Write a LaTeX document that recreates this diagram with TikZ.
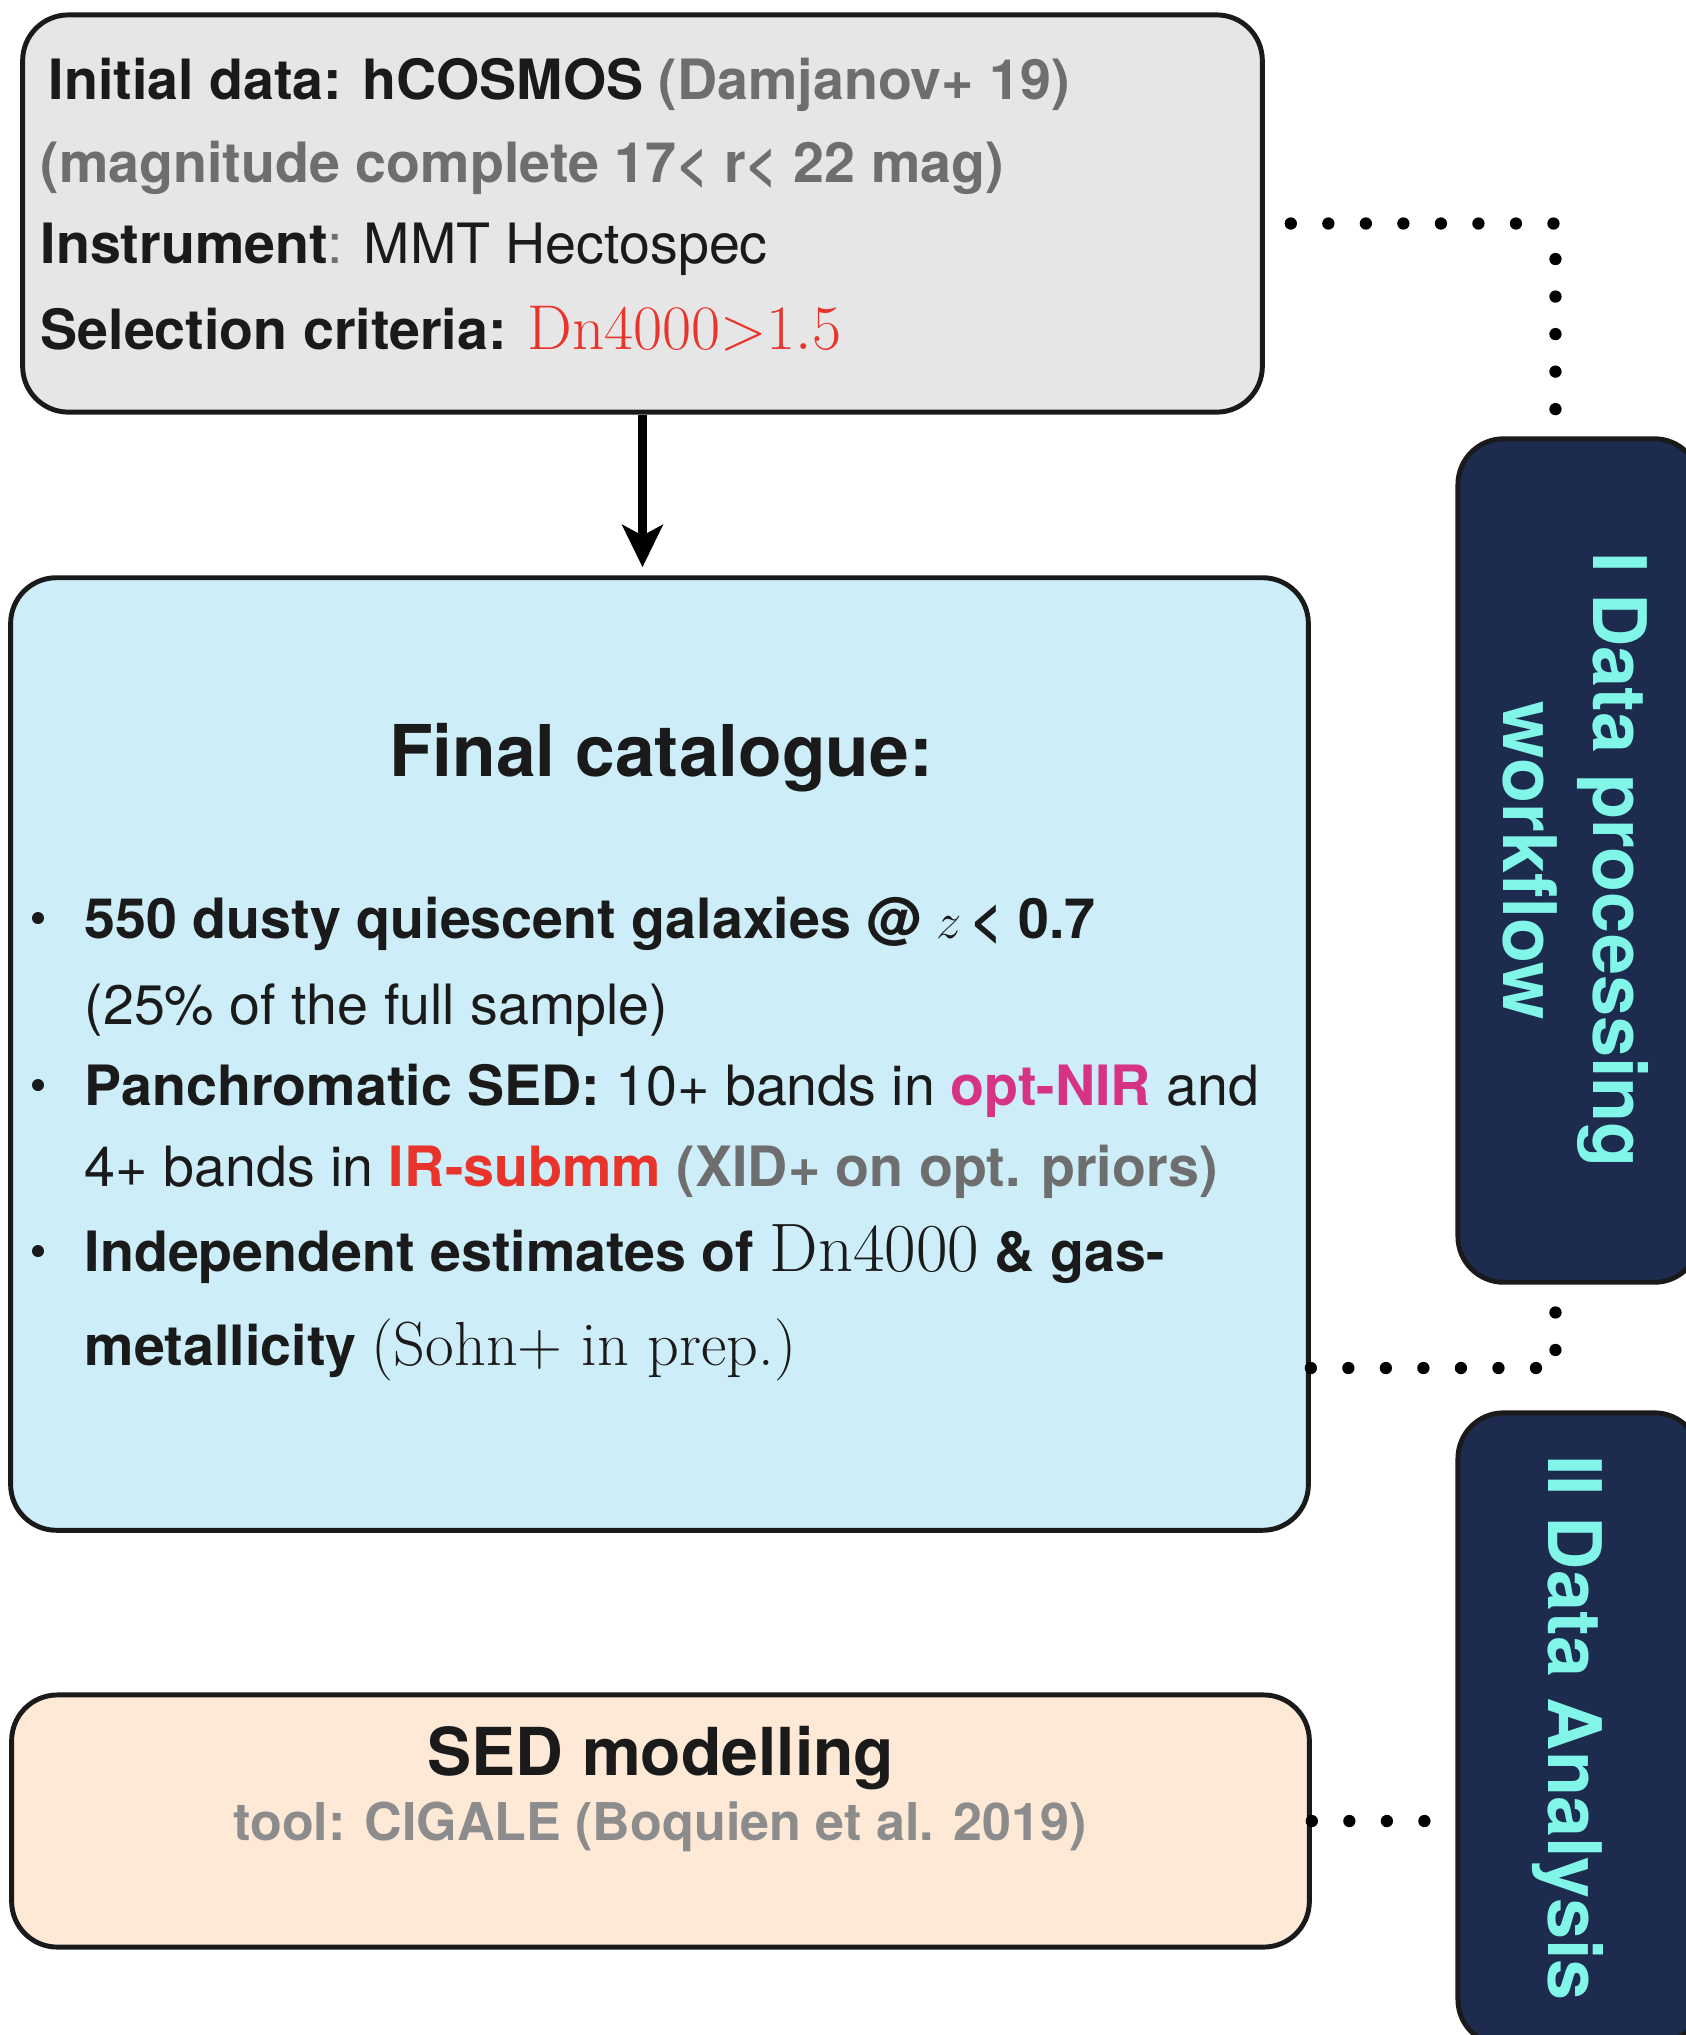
\documentclass[tikz,border=0pt]{standalone}
\usepackage{fontspec}
\setsansfont{TeX Gyre Heros}
\usetikzlibrary{arrows.meta,calc}

\definecolor{inkblack}{HTML}{1A1A1A}
\definecolor{boxgray}{HTML}{E6E6E6}
\definecolor{boxblue}{HTML}{CDEEF9}
\definecolor{boxpeach}{HTML}{FDE9D6}
\definecolor{boxnavy}{HTML}{1C2B4E}
\definecolor{labelcyan}{HTML}{80F5E8}
\definecolor{notegray}{HTML}{6E6E6E}
\definecolor{toolgray}{HTML}{8C8C8C}
\definecolor{hotred}{HTML}{E8342B}
\definecolor{hotpink}{HTML}{D63384}

\newcommand{\fs}[1]{\fontsize{#1}{#1}\selectfont}

\begin{document}
\begin{tikzpicture}[x=0.01cm, y=-0.01cm,
  panel/.style={draw=inkblack, line width=1.4pt, rounded corners=13pt,
    inner sep=0pt, anchor=center},
  txt/.style={inner sep=0pt, anchor=base west, text=inkblack, font=\sffamily\fs{15.8pt}},
  ctxt/.style={inner sep=0pt, anchor=base, text=inkblack},
  sidetxt/.style={inner sep=0pt, anchor=base, rotate=-90, text=labelcyan,
    font=\sffamily\bfseries\fs{21pt}},
  flow/.style={draw=black, line width=2.5pt,
    -{Stealth[length=12pt, width=11.5pt, inset=3pt]}},
  dotline/.style={draw=black, line width=3.5pt, line cap=round,
    dash pattern=on 0pt off 10.67pt}
]
\useasboundingbox (0,0) rectangle (1686,2035);

% ---- boxes ----
\node[panel, fill=boxgray, minimum width=12.39cm, minimum height=3.97cm]
  (init) at (642.5,213.5) {};
\node[panel, fill=boxblue, minimum width=12.97cm, minimum height=9.52cm]
  (cat) at (659.5,1054) {};
\node[panel, fill=boxpeach, minimum width=12.97cm, minimum height=2.52cm]
  (sed) at (660.5,1821) {};
\node[panel, fill=boxnavy, minimum width=2.42cm, minimum height=8.43cm]
  (stageone) at (1579,860.5) {};
\node[panel, fill=boxnavy, minimum width=2.42cm, minimum height=6.32cm]
  (stagetwo) at (1579,1729) {};

% ---- initial data ----
\node[txt] (initA) at (48,99)
  {\bfseries Initial data: hCOSMOS \textcolor{notegray}{(Damjanov+ 19)}};
\node[txt, text=notegray] (initB) at (40,182)
  {\bfseries (magnitude complete 17< r< 22 mag)};
\node[txt] (initC) at (40,263)
  {\bfseries Instrument\mdseries\textcolor{notegray}{:} MMT Hectospec};
\node[txt] (initD) at (40,349)
  {\bfseries Selection criteria: \textcolor{hotred}{\fs{18pt}$\mathrm{Dn4000{>}1.5}$}};

% ---- final catalogue ----
\node[ctxt, font=\sffamily\bfseries\fs{20.3pt}] (catTitle) at (661,776)
  {Final catalogue:};

\fill[inkblack] (38,918) circle (6);
\fill[inkblack] (38,1085) circle (6);
\fill[inkblack] (38,1251) circle (6);

\node[txt] (catA) at (84,938)
  {\bfseries 550 dusty quiescent galaxies @ $z$\,< 0.7};
\node[txt] (catB) at (84,1024)
  {(25\% of the full sample)};
\node[txt] (catC) at (84,1105)
  {\bfseries Panchromatic SED: \mdseries 10+ bands in
   \textcolor{hotpink}{\bfseries opt-NIR} and};
\node[txt] (catD) at (84,1186)
  {4+ bands in \textcolor{hotred}{\bfseries IR-submm}
   \textcolor{notegray}{\bfseries (XID+ on opt. priors)}};
\node[txt] (catE) at (84,1271)
  {\bfseries Independent estimates of {\rmfamily\mdseries\fs{19.5pt}Dn4000} \& gas-};
\node[txt] (catF) at (84,1365)
  {\bfseries metallicity {\rmfamily\mdseries\fs{17.7pt}(Sohn+ in prep.)}};

% ---- SED modelling ----
\node[ctxt, font=\sffamily\bfseries\fs{18.8pt}] (sedTitle) at (661,1775)
  {SED modelling};
\node[ctxt, text=toolgray, font=\sffamily\bfseries\fs{14.8pt}] (sedTool) at (660,1840)
  {tool: CIGALE (Boquien et al. 2019)};

% ---- stage labels ----
\node[sidetxt] (oneA) at (1593,860) {I Data processing};
\node[sidetxt] (oneB) at (1503,861) {workflow};
\node[sidetxt] (twoA) at (1548,1728) {II Data Analysis};

% ---- connectors ----
\draw[flow, shorten >=2.3pt] (init.south) -- (init.south |- cat.north);

\draw[dotline] ($(init.east)+(26,10)$) -| ($(stageone.north west)+(100,-14)$);
\draw[dotline] ($(cat.east)+(0,314)$) -| ($(stageone.south west)+(100,13)$);
\draw[dotline] (sed.east) -- ($(sed.east -| stagetwo.west)+(6,0)$);

\end{tikzpicture}
\end{document}
